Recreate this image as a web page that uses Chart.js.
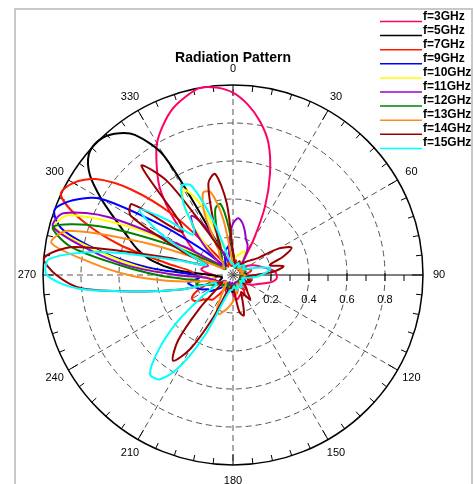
<!DOCTYPE html>
<html>
<head>
<meta charset="utf-8">
<title>Radiation Pattern</title>
<script src="https://cdn.jsdelivr.net/npm/chart.js@4.4.1/dist/chart.umd.min.js"></script>
<style>
  html, body { margin: 0; padding: 0; background: #fff; }
  canvas { display: block; }
</style>
</head>
<body>
<canvas id="pattern" width="475" height="484"></canvas>
<script>
// sample directions, every 5 degrees (0 = top, clockwise)
var angleLabels = [];
for (var a = 0; a < 360; a += 5) angleLabels.push(String(a));

var angleTicks = ['0', '30', '60', '90', '120', '150', '180', '210', '240', '270', '300', '330'];
var radialTicks = [0.2, 0.4, 0.6, 0.8];

var seriesNames = ['f=3GHz', 'f=5GHz', 'f=7GHz', 'f=9GHz', 'f=10GHz', 'f=11GHz', 'f=12GHz', 'f=13GHz', 'f=14GHz', 'f=15GHz'];
var seriesColors = ['#ff0066', '#000000', '#ff1a00', '#0000ff', '#ffff00', '#9900cc', '#008000', '#ff8c1a', '#990000', '#00ffff'];

// normalised magnitude, one row = 60 degrees
var f3 = [0.96, 0.9, 0.82, 0.72, 0.57, 0.4, 0.22, 0.1, 0.06, 0.05, 0.06, 0.08,
  0.1, 0.12, 0.14, 0.16, 0.19, 0.22, 0.23, 0.23, 0.21, 0.17, 0.14, 0.12,
  0.1, 0.08, 0.06, 0.05, 0.07, 0.1, 0.12, 0.12, 0.11, 0.12, 0.13, 0.12,
  0.1, 0.08, 0.06, 0.05, 0.06, 0.08, 0.09, 0.08, 0.06, 0.05, 0.06, 0.08,
  0.1, 0.12, 0.13, 0.12, 0.1, 0.08, 0.1, 0.14, 0.17, 0.16, 0.14, 0.17,
  0.22, 0.28, 0.35, 0.47, 0.6, 0.7, 0.8, 0.87, 0.93, 0.97, 1.0, 0.99];
var f5 = [0.05, 0.06, 0.05, 0.04, 0.04, 0.05, 0.06, 0.05, 0.04, 0.04, 0.05, 0.06,
  0.06, 0.05, 0.04, 0.04, 0.05, 0.06, 0.06, 0.05, 0.04, 0.04, 0.05, 0.06,
  0.07, 0.07, 0.06, 0.05, 0.05, 0.06, 0.07, 0.07, 0.06, 0.05, 0.06, 0.08,
  0.09, 0.08, 0.06, 0.05, 0.06, 0.07, 0.08, 0.07, 0.06, 0.05, 0.06, 0.07,
  0.08, 0.08, 0.07, 0.06, 0.06, 0.08, 0.12, 0.3, 0.43, 0.52, 0.59, 0.68,
  0.8, 0.92, 0.99, 1.0, 0.97, 0.9, 0.72, 0.15, 0.08, 0.06, 0.05, 0.05];
var f7 = [0.05, 0.07, 0.08, 0.07, 0.05, 0.04, 0.05, 0.07, 0.08, 0.07, 0.05, 0.04,
  0.05, 0.07, 0.09, 0.1, 0.09, 0.07, 0.06, 0.07, 0.09, 0.1, 0.09, 0.07,
  0.05, 0.05, 0.07, 0.09, 0.1, 0.09, 0.07, 0.06, 0.07, 0.09, 0.1, 0.09,
  0.07, 0.06, 0.07, 0.09, 0.1, 0.09, 0.08, 0.12, 0.17, 0.18, 0.2, 0.24,
  0.25, 0.22, 0.15, 0.1, 0.1, 0.15, 0.2, 0.22, 0.35, 0.62, 0.85, 1.0,
  0.97, 0.88, 0.7, 0.45, 0.15, 0.06, 0.05, 0.06, 0.07, 0.06, 0.05, 0.05];
var f9 = [0.12, 0.08, 0.05, 0.04, 0.05, 0.06, 0.07, 0.06, 0.05, 0.04, 0.05, 0.06,
  0.07, 0.06, 0.05, 0.05, 0.06, 0.07, 0.06, 0.05, 0.04, 0.05, 0.06, 0.07,
  0.06, 0.05, 0.05, 0.06, 0.07, 0.06, 0.05, 0.04, 0.05, 0.06, 0.07, 0.06,
  0.05, 0.06, 0.08, 0.09, 0.08, 0.06, 0.05, 0.06, 0.08, 0.1, 0.12, 0.15,
  0.15, 0.18, 0.2, 0.22, 0.24, 0.18, 0.2, 0.45, 0.7, 0.93, 1.0, 0.93,
  0.8, 0.45, 0.2, 0.08, 0.06, 0.07, 0.08, 0.1, 0.12, 0.14, 0.15, 0.17];
var f10 = [0.06, 0.08, 0.1, 0.11, 0.12, 0.14, 0.12, 0.08, 0.05, 0.04, 0.05, 0.06,
  0.05, 0.04, 0.04, 0.05, 0.06, 0.05, 0.04, 0.04, 0.05, 0.06, 0.05, 0.04,
  0.04, 0.05, 0.06, 0.05, 0.04, 0.05, 0.06, 0.07, 0.06, 0.05, 0.06, 0.07,
  0.06, 0.05, 0.06, 0.07, 0.06, 0.05, 0.06, 0.07, 0.08, 0.07, 0.06, 0.07,
  0.08, 0.1, 0.12, 0.11, 0.1, 0.15, 0.3, 0.5, 0.72, 0.97, 0.92, 0.6,
  0.25, 0.12, 0.1, 0.15, 0.3, 0.45, 0.52, 0.42, 0.2, 0.1, 0.07, 0.06];
var f11 = [0.27, 0.3, 0.28, 0.24, 0.2, 0.18, 0.15, 0.1, 0.06, 0.05, 0.04, 0.05,
  0.06, 0.05, 0.04, 0.04, 0.05, 0.06, 0.05, 0.04, 0.04, 0.05, 0.06, 0.05,
  0.04, 0.04, 0.05, 0.06, 0.05, 0.04, 0.05, 0.06, 0.05, 0.04, 0.05, 0.06,
  0.05, 0.04, 0.05, 0.06, 0.05, 0.04, 0.05, 0.06, 0.07, 0.06, 0.05, 0.06,
  0.07, 0.08, 0.09, 0.1, 0.12, 0.15, 0.3, 0.55, 0.77, 0.98, 0.95, 0.72,
  0.3, 0.12, 0.08, 0.2, 0.32, 0.38, 0.3, 0.15, 0.08, 0.08, 0.12, 0.2];
var f12 = [0.1, 0.06, 0.05, 0.04, 0.05, 0.06, 0.05, 0.04, 0.04, 0.05, 0.06, 0.05,
  0.04, 0.05, 0.06, 0.07, 0.06, 0.05, 0.04, 0.05, 0.06, 0.05, 0.04, 0.04,
  0.05, 0.06, 0.05, 0.04, 0.05, 0.06, 0.07, 0.06, 0.05, 0.06, 0.07, 0.06,
  0.05, 0.06, 0.07, 0.08, 0.07, 0.06, 0.05, 0.06, 0.07, 0.08, 0.07, 0.08,
  0.1, 0.12, 0.15, 0.2, 0.18, 0.25, 0.4, 0.6, 0.87, 0.98, 0.75, 0.4,
  0.15, 0.07, 0.05, 0.06, 0.08, 0.1, 0.12, 0.18, 0.25, 0.36, 0.38, 0.25];
var f13 = [0.06, 0.05, 0.04, 0.05, 0.06, 0.07, 0.06, 0.05, 0.04, 0.05, 0.06, 0.05,
  0.04, 0.05, 0.06, 0.05, 0.04, 0.05, 0.06, 0.07, 0.06, 0.05, 0.05, 0.06,
  0.07, 0.06, 0.05, 0.05, 0.06, 0.07, 0.06, 0.05, 0.06, 0.08, 0.1, 0.12,
  0.14, 0.16, 0.18, 0.2, 0.22, 0.2, 0.12, 0.07, 0.06, 0.05, 0.06, 0.07,
  0.08, 0.09, 0.1, 0.12, 0.2, 0.35, 0.55, 0.75, 0.97, 0.9, 0.5, 0.2,
  0.08, 0.06, 0.06, 0.07, 0.08, 0.12, 0.15, 0.35, 0.46, 0.45, 0.3, 0.1];
var f14 = [0.12, 0.08, 0.06, 0.05, 0.06, 0.08, 0.07, 0.06, 0.08, 0.1, 0.12, 0.15,
  0.28, 0.34, 0.28, 0.2, 0.27, 0.22, 0.12, 0.08, 0.07, 0.08, 0.1, 0.09,
  0.07, 0.06, 0.08, 0.1, 0.12, 0.16, 0.12, 0.1, 0.15, 0.22, 0.2, 0.1,
  0.07, 0.06, 0.07, 0.08, 0.1, 0.25, 0.45, 0.55, 0.45, 0.25, 0.1, 0.07,
  0.08, 0.1, 0.15, 0.3, 0.5, 0.8, 0.93, 1.0, 0.85, 0.35, 0.15, 0.3,
  0.62, 0.65, 0.35, 0.4, 0.75, 0.6, 0.25, 0.15, 0.3, 0.5, 0.54, 0.38];
var f15 = [0.06, 0.05, 0.04, 0.05, 0.06, 0.07, 0.06, 0.05, 0.06, 0.07, 0.08, 0.07,
  0.06, 0.08, 0.1, 0.15, 0.2, 0.18, 0.15, 0.12, 0.08, 0.06, 0.05, 0.06,
  0.07, 0.06, 0.05, 0.06, 0.07, 0.08, 0.07, 0.06, 0.07, 0.08, 0.07, 0.06,
  0.07, 0.08, 0.08, 0.1, 0.15, 0.35, 0.55, 0.67, 0.68, 0.55, 0.38, 0.2,
  0.1, 0.1, 0.15, 0.3, 0.5, 0.82, 0.98, 0.97, 0.7, 0.3, 0.15, 0.25,
  0.45, 0.6, 0.45, 0.3, 0.32, 0.45, 0.54, 0.52, 0.3, 0.1, 0.07, 0.06];

var seriesValues = [f3, f5, f7, f9, f10, f11, f12, f13, f14, f15];

var FONT = 'Arial, "Liberation Sans", Helvetica, sans-serif';

// rim ticks, angle labels, radial labels, frame and legend
var polarDecor = {
  id: 'polarDecor',
  beforeDraw: function (chart) {
    var ctx = chart.ctx;
    ctx.save();
    ctx.strokeStyle = '#c8c8c8';
    ctx.lineWidth = 2;
    ctx.strokeRect(15, 9, 457, 490);
    ctx.restore();
  },
  beforeDatasetsDraw: function (chart) {
    var r = chart.scales.r;
    var ctx = chart.ctx;
    var cx = r.xCenter, cy = r.yCenter, R = r.drawingArea;
    ctx.save();
    ctx.strokeStyle = '#000';
    ctx.lineWidth = 1;
    for (var d = 0; d < 360; d += 6) {
      var t = d * Math.PI / 180 - Math.PI / 2;
      var len = d % 30 === 0 ? 11 : 6;
      ctx.beginPath();
      ctx.moveTo(cx + Math.cos(t) * R, cy + Math.sin(t) * R);
      ctx.lineTo(cx + Math.cos(t) * (R - len), cy + Math.sin(t) * (R - len));
      ctx.stroke();
    }
    // ticks along the 90 degree axis
    for (var k = 1; k < 10; k++) {
      var x = cx + r.getDistanceFromCenterForValue(k / 10);
      ctx.beginPath();
      ctx.moveTo(x, k % 2 === 0 ? cy - 2 : cy);
      ctx.lineTo(x, cy + 6);
      ctx.stroke();
    }
    ctx.fillStyle = '#000';
    ctx.font = '11px ' + FONT;
    ctx.textAlign = 'center';
    ctx.textBaseline = 'middle';
    angleTicks.forEach(function (lbl) {
      var idx = angleLabels.indexOf(lbl);
      var p = r.getPointPosition(idx, R + 16);
      ctx.fillText(lbl, p.x, p.y);
    });
    radialTicks.forEach(function (v) {
      ctx.fillText(v.toFixed(1), cx + r.getDistanceFromCenterForValue(v), cy + 25);
    });
    ctx.restore();
  },
  afterDraw: function (chart) {
    var ctx = chart.ctx;
    ctx.save();
    ctx.font = 'bold 12px ' + FONT;
    ctx.textAlign = 'left';
    ctx.textBaseline = 'alphabetic';
    chart.data.datasets.forEach(function (ds, i) {
      var y = 21.5 + i * 14.1;
      ctx.strokeStyle = ds.borderColor;
      ctx.lineWidth = 1.5;
      ctx.beginPath();
      ctx.moveTo(380, y);
      ctx.lineTo(422, y);
      ctx.stroke();
      ctx.fillStyle = '#000';
      ctx.fillText(ds.label, 423, y - 2);
    });
    ctx.restore();
  }
};

var ctx = document.getElementById('pattern').getContext('2d');
var patternChart = new Chart(ctx, {
  type: 'radar',
  data: {
    labels: angleLabels,
    datasets: seriesNames.map(function (name, i) {
      return {
        label: name,
        data: seriesValues[i],
        borderColor: seriesColors[i],
        backgroundColor: seriesColors[i],
        borderWidth: 2,
        pointRadius: 0,
        fill: false,
        tension: 0.3,
        order: seriesNames.length - i
      };
    })
  },
  options: {
    responsive: false,
    animation: false,
    devicePixelRatio: 1,
    layout: { padding: { left: 43, right: 52, top: 0, bottom: 19 } },
    plugins: {
      legend: { display: false },
      tooltip: { enabled: false },
      title: {
        display: true,
        text: 'Radiation Pattern',
        fullSize: false,
        color: '#000',
        font: { family: FONT, size: 14, weight: 'bold', lineHeight: 1.2 },
        padding: { top: 49.6, bottom: 18.6 }
      }
    },
    scales: {
      r: {
        min: 0,
        max: 1,
        ticks: { display: false, stepSize: 0.2 },
        pointLabels: { display: false },
        grid: {
          circular: true,
          color: function (c) { return c.tick && c.tick.value === 1 ? '#000' : '#555'; },
          lineWidth: function (c) { return c.tick && c.tick.value === 1 ? 1.5 : 1; }
        },
        border: {
          dash: function (c) { return c.tick && c.tick.value === 1 ? [] : [6, 4]; }
        },
        angleLines: {
          color: function (c) { return c.index === 18 ? '#000' : '#555'; },
          lineWidth: function (c) { return c.index % 6 === 0 ? 1 : 0; },
          borderDash: function (c) { return c.index === 18 ? [] : [6, 4]; }
        }
      }
    }
  },
  plugins: [polarDecor]
});
</script>
</body>
</html>
